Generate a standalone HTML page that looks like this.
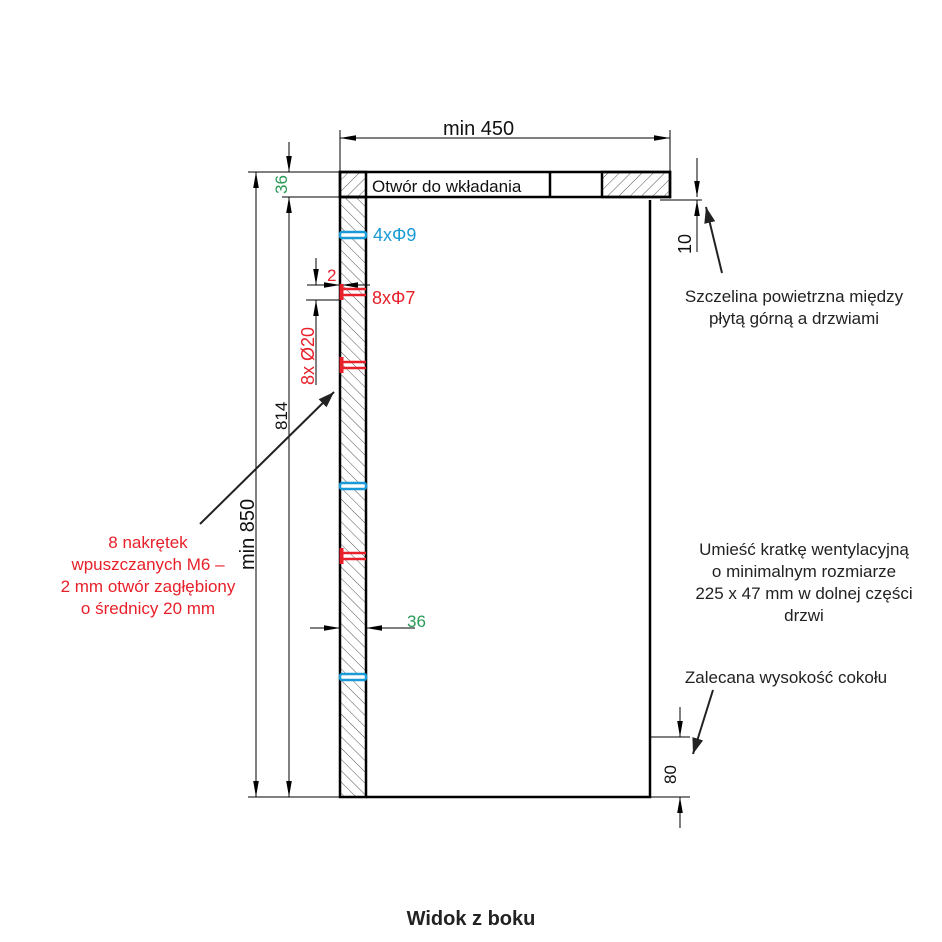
<!DOCTYPE html>
<html><head><meta charset="utf-8"><style>
html,body{margin:0;padding:0;background:#fff;}
svg{display:block;font-family:"Liberation Sans",sans-serif;}
</style></head><body>
<svg width="942" height="942" viewBox="0 0 942 942" xmlns="http://www.w3.org/2000/svg">
<defs>
<pattern id="h1" patternUnits="userSpaceOnUse" width="8" height="8" patternTransform="rotate(-45)">
<line x1="0" y1="0" x2="0" y2="8" stroke="#555" stroke-width="1"/></pattern>
<pattern id="h2" patternUnits="userSpaceOnUse" width="8" height="8" patternTransform="rotate(45)">
<line x1="0" y1="0" x2="0" y2="8" stroke="#555" stroke-width="1"/></pattern>
<marker id="a" viewBox="0 0 16 10" refX="16" refY="5" markerWidth="16" markerHeight="10" markerUnits="userSpaceOnUse" orient="auto-start-reverse"><path d="M0,2.2 L16,5 L0,7.8z" fill="#000"/></marker>
<marker id="b" viewBox="0 0 10 10" refX="10" refY="5" markerWidth="16" markerHeight="16" markerUnits="userSpaceOnUse" orient="auto"><path d="M0,1.5 L10,5 L0,8.5z" fill="#222"/></marker>
</defs>
<g stroke="#000" fill="none">
<rect x="340" y="197" width="26" height="600" fill="url(#h1)" stroke-width="2.5"/>
<rect x="340" y="172" width="26" height="25" fill="url(#h2)" stroke-width="2.5"/>
<rect x="340" y="172" width="330" height="25" stroke-width="2.5"/>
<line x1="550" y1="172" x2="550" y2="197" stroke-width="2.5"/>
<rect x="602" y="172" width="68" height="25" fill="url(#h2)" stroke-width="2.5"/>
<polyline points="366,797 650,797 650,200" stroke-width="2.5"/>
<line x1="340" y1="130" x2="340" y2="172" stroke-width="1"/>
<line x1="670" y1="130" x2="670" y2="172" stroke-width="1"/>
<line x1="340" y1="138" x2="670" y2="138" stroke-width="1" marker-start="url(#a)" marker-end="url(#a)"/>
<line x1="248" y1="172" x2="340" y2="172" stroke-width="1"/>
<line x1="248" y1="797" x2="340" y2="797" stroke-width="1"/>
<line x1="282" y1="197" x2="340" y2="197" stroke-width="1"/>
<line x1="256" y1="172" x2="256" y2="797" stroke-width="1" marker-start="url(#a)" marker-end="url(#a)"/>
<line x1="289" y1="197" x2="289" y2="797" stroke-width="1" marker-start="url(#a)" marker-end="url(#a)"/>
<line x1="289" y1="142" x2="289" y2="172" stroke-width="1" marker-end="url(#a)"/>
<line x1="307" y1="285" x2="370" y2="285" stroke-width="1"/>
<line x1="306" y1="300" x2="340" y2="300" stroke-width="1"/>
<line x1="318" y1="285" x2="340" y2="285" stroke-width="1" marker-end="url(#a)"/>
<line x1="360" y1="285" x2="342" y2="285" stroke-width="1" marker-end="url(#a)"/>
<line x1="316" y1="258" x2="316" y2="285" stroke-width="1" marker-end="url(#a)"/>
<line x1="316" y1="385" x2="316" y2="300" stroke-width="1" marker-end="url(#a)"/>
<line x1="310" y1="628" x2="340" y2="628" stroke-width="1" marker-end="url(#a)"/>
<line x1="415" y1="628" x2="366" y2="628" stroke-width="1" marker-end="url(#a)"/>
<line x1="660" y1="200" x2="702" y2="200" stroke-width="1"/>
<line x1="697" y1="158" x2="697" y2="197" stroke-width="1" marker-end="url(#a)"/>
<line x1="697" y1="252" x2="697" y2="200" stroke-width="1" marker-end="url(#a)"/>
<line x1="650" y1="737" x2="690" y2="737" stroke-width="1"/>
<line x1="680" y1="707" x2="680" y2="737" stroke-width="1" marker-end="url(#a)"/>
<line x1="680" y1="828" x2="680" y2="797" stroke-width="1" marker-end="url(#a)"/>
<line x1="650" y1="797" x2="690" y2="797" stroke-width="1"/>
<line x1="200" y1="524" x2="334" y2="392" stroke="#222" stroke-width="2" marker-end="url(#b)"/>
<line x1="722" y1="273" x2="706" y2="207" stroke="#222" stroke-width="2" marker-end="url(#b)"/>
<line x1="713" y1="690" x2="693" y2="754" stroke="#222" stroke-width="2" marker-end="url(#b)"/>
</g>
<g fill="#fff" stroke="#1a9ad6" stroke-width="2.5">
<rect x="340" y="232" width="26" height="6" rx="2"/>
<rect x="340" y="483" width="26" height="6" rx="2"/>
<rect x="340" y="674" width="26" height="6" rx="2"/>
</g>
<g stroke="#e8202a" fill="none">
<g transform="translate(0,292)"><line x1="341.5" y1="-8" x2="341.5" y2="8" stroke-width="4"/><line x1="343" y1="-3" x2="366" y2="-3" stroke-width="2.5"/><line x1="343" y1="3" x2="366" y2="3" stroke-width="2.5"/></g>
<g transform="translate(0,365)"><line x1="341.5" y1="-8" x2="341.5" y2="8" stroke-width="4"/><line x1="343" y1="-3" x2="366" y2="-3" stroke-width="2.5"/><line x1="343" y1="3" x2="366" y2="3" stroke-width="2.5"/></g>
<g transform="translate(0,556)"><line x1="341.5" y1="-8" x2="341.5" y2="8" stroke-width="4"/><line x1="343" y1="-3" x2="366" y2="-3" stroke-width="2.5"/><line x1="343" y1="3" x2="366" y2="3" stroke-width="2.5"/></g>
</g>
<text x="443" y="135" font-size="20" fill="#111">min 450</text>
<text x="372" y="192" font-size="17" fill="#111">Otwór do wkładania</text>
<text x="373" y="241" font-size="18" fill="#1a9ad6">4xΦ9</text>
<text x="372" y="304" font-size="18" fill="#e8202a">8xΦ7</text>
<text x="327" y="281" font-size="17" fill="#e8202a">2</text>
<text transform="translate(314,385) rotate(-90)" font-size="18" fill="#e8202a">8x  Ø20</text>
<text transform="translate(287,194) rotate(-90)" font-size="17" fill="#2a9a55">36</text>
<text transform="translate(287,430) rotate(-90)" font-size="17" fill="#111">814</text>
<text transform="translate(254,570) rotate(-90)" font-size="20" fill="#111">min 850</text>
<text x="407" y="627" font-size="17" fill="#2a9a55">36</text>
<text transform="translate(691,254) rotate(-90)" font-size="18" fill="#111">10</text>
<text transform="translate(676,784) rotate(-90)" font-size="17" fill="#111">80</text>
<g font-size="17" fill="#e8202a" text-anchor="middle">
<text x="148" y="548">8 nakrętek</text>
<text x="148" y="570">wpuszczanych M6 –</text>
<text x="148" y="592">2 mm otwór zagłębiony</text>
<text x="148" y="614">o średnicy 20 mm</text>
</g>
<g font-size="17" fill="#222" text-anchor="middle">
<text x="794" y="302">Szczelina powietrzna między</text>
<text x="794" y="324">płytą górną a drzwiami</text>
<text x="804" y="555">Umieść kratkę wentylacyjną</text>
<text x="804" y="577">o minimalnym rozmiarze</text>
<text x="804" y="599">225 x 47 mm w dolnej części</text>
<text x="804" y="621">drzwi</text>
<text x="786" y="683">Zalecana wysokość cokołu</text>
</g>
<text x="471" y="925" font-size="20" font-weight="bold" fill="#222" text-anchor="middle">Widok z boku</text>
</svg>
</body></html>
